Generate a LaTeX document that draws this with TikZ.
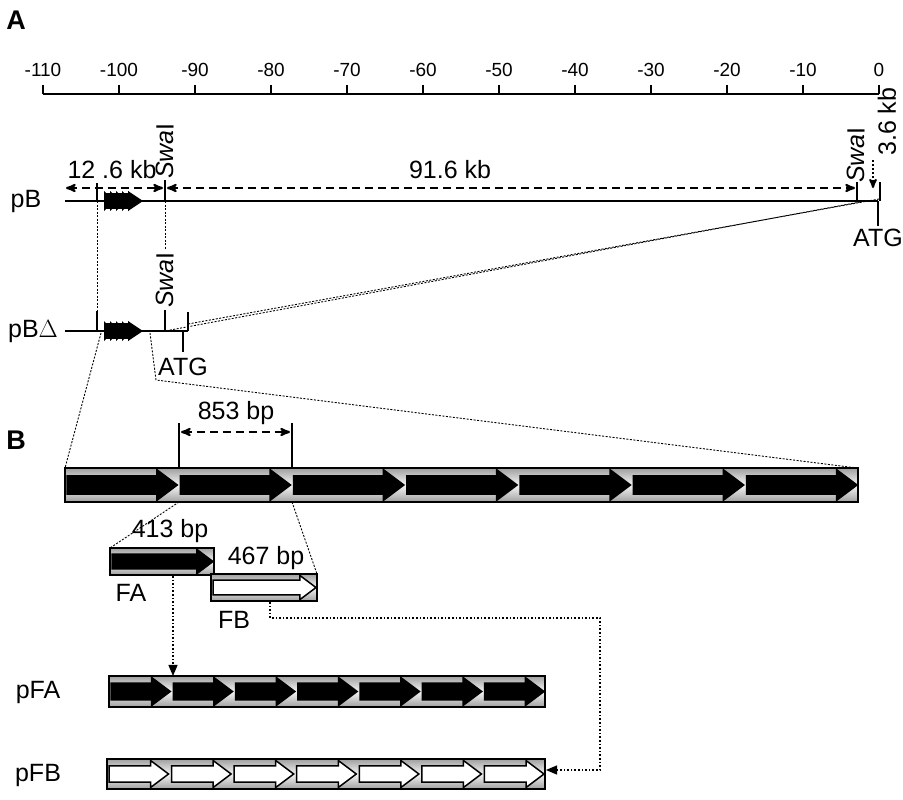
\documentclass[tikz,border=0pt]{standalone}
\usepackage{fontspec}
\setmainfont{Liberation Sans}
\usetikzlibrary{arrows,math}

\tikzset{
  lbl/.style={font=\fontsize{25}{27}\selectfont,inner sep=1pt},
  tck/.style={font=\fontsize{19}{21}\selectfont,inner sep=1pt},
  guide/.style={dotted,line width=1.6pt},
  thin guide/.style={dash pattern=on 2pt off 1.5pt,line width=0.9pt},
  dim/.style={dash pattern=on 8pt off 5pt,<->,>=stealth',line width=2.2pt},
}

% box of arrows: x0, y0, x1, y1, count, fill of arrows
\newcommand{\arrowbox}[6]{%
  \shade[top color=gray!75,bottom color=gray!75,middle color=gray!8]
    (#1,#2) rectangle (#3,#4);
  \pgfmathsetmacro{\w}{(#3-#1)/#5}
  \pgfmathsetmacro{\ym}{(#2+#4)/2}
  \pgfmathsetmacro{\hh}{(#4-#2)}
  \foreach\k in {1,...,#5}{
    \pgfmathsetmacro{\xa}{#1+(\k-1)*\w+2}
    \pgfmathsetmacro{\xb}{#1+\k*\w-1}
    \pgfmathsetmacro{\xh}{\xb-0.6*\hh}
    \filldraw[fill=#6,line width=1.5pt]
      (\xa,\ym-0.27*\hh)--(\xh,\ym-0.27*\hh)--(\xh,\ym-0.45*\hh)--(\xb,\ym)
      --(\xh,\ym+0.45*\hh)--(\xh,\ym+0.27*\hh)--(\xa,\ym+0.27*\hh)--cycle;
  }
  \draw[line width=2pt] (#1,#2) rectangle (#3,#4);
}

% serrated repeat cluster
\newcommand{\cluster}[1]{%
  \fill (104,#1-8) rectangle (128,#1+8);
  \foreach\cx in {104,110,...,128}
    \fill (\cx,#1-10)--(\cx+10,#1)--(\cx,#1+10)--cycle;
  \fill (128,#1-10)--(143,#1)--(128,#1+10)--cycle;
}

\begin{document}
\begin{tikzpicture}[x=1pt,y=-1pt,line width=2.5pt]
\useasboundingbox (0,0) rectangle (903,800);

\node[lbl,font=\fontsize{27}{29}\selectfont\bfseries] at (16,20) {A};
\node[lbl,font=\fontsize{27}{29}\selectfont\bfseries] at (16,440) {B};

% scale
\draw (43,94)--(879,94);
\foreach\v in {0,10,...,110}{
  \draw (879-7.6*\v,85)--(879-7.6*\v,94);
  \pgfmathtruncatemacro{\n}{-\v}
  \node[tck] at (879-7.6*\v,70) {\n};
}

% pB
\node[lbl] at (26,201) {pB};
\draw (65,201)--(878,201);
\draw (97,183)--(97,201);
\draw (165,180)--(165,201);
\draw (857,182)--(857,201);
\draw (880,182)--(880,201);
\draw (878,201)--(878,226);
\cluster{201}
\draw[dim] (66,188)--(163,188);
\draw[dim] (167,188)--(855,188);
\node[lbl] at (112,170) {12 .6 kb};
\node[lbl] at (450,170) {91.6 kb};
\node[lbl,rotate=90,anchor=west] at (165,181) {\itshape Swa\upshape I};
\node[lbl,rotate=90,anchor=west] at (856,185) {\itshape Swa\upshape I};
\node[lbl,rotate=90,anchor=west] at (887,158) {3.6 kb};
\draw[dotted,->,>=stealth',line width=2pt] (873,160)--(873,188);
\node[lbl] at (878,238) {ATG};

% pB delta
\node[lbl] at (33,331) {pB$\Delta$};
\draw (65,331)--(188,331);
\draw (97,311)--(97,331);
\draw (165,310)--(165,331);
\draw (188,312)--(188,331);
\draw (183,331)--(183,352);
\cluster{331}
\node[lbl,rotate=90,anchor=west] at (165,310) {\itshape Swa\upshape I};
\node[lbl] at (183,367) {ATG};

% guides between pB and pB delta
\draw[thin guide] (97,201)--(97,311);
\draw[thin guide] (165,201)--(165,250);
\draw[thin guide] (860,202)--(165,331);
\draw[thin guide] (879,199)--(188,324);
\draw[thin guide] (101,333)--(65,468);
\draw[thin guide] (150,333)--(156,380)--(857,468);

% repeat array
\arrowbox{65}{468}{858}{502}{7}{black}
\draw (179,423)--(179,468);
\draw (292,423)--(292,468);
\draw[dim] (181,432)--(290,432);
\node[lbl] at (236,413) {853 bp};
\draw[thin guide] (179,502)--(110,548);
\draw[thin guide] (292,502)--(317,574);

% fragments
\arrowbox{110}{548}{214}{575}{1}{black}
\arrowbox{211}{574}{317}{601}{1}{white}
\node[lbl] at (170,531) {413 bp};
\node[lbl] at (266,558) {467 bp};
\node[lbl] at (131,593) {FA};
\node[lbl] at (234,620) {FB};

% concatemers
\node[lbl] at (38,692) {pFA};
\node[lbl] at (38,775) {pFB};
\arrowbox{109}{676}{545}{707}{7}{black}
\arrowbox{107}{759}{545}{789}{7}{white}
\draw[guide,-triangle 45] (173,576)--(173,676);
\draw[guide,-triangle 45] (270,602)--(270,618)--(600,618)--(600,770)--(546,770);
\end{tikzpicture}
\end{document}
